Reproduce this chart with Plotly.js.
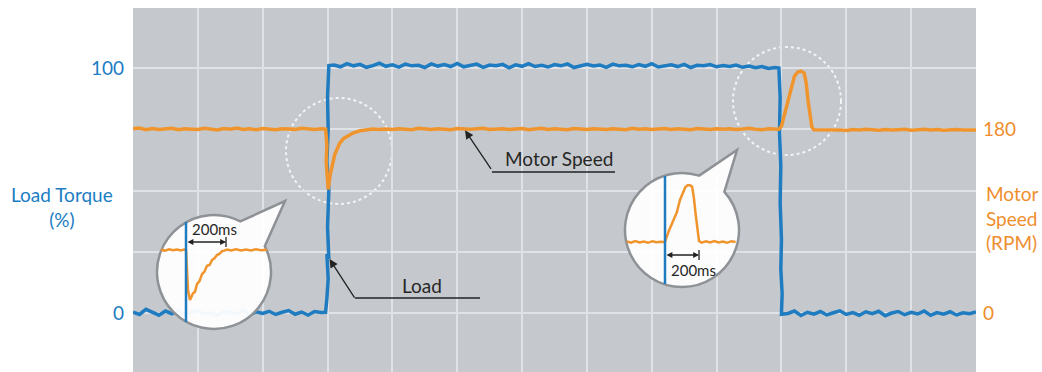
<!DOCTYPE html>
<html><head><meta charset="utf-8">
<script src="https://cdn.plot.ly/plotly-3.0.1.min.js"></script>
<style>html,body{margin:0;padding:0;background:#fff;}#chart{width:1042px;height:372px;}</style>
</head><body><div id="chart"></div>
<script>
// ---------------- DATA ----------------
// main chart time base (grid divisions)
const loadTime = [0,0.1,0.2,0.3,0.4,0.5,0.6,0.7,0.8,0.9,1,1.1,1.2,1.3,1.4,1.5,1.6,1.7,1.8,1.9,2,2.1,2.2,2.3,2.4,2.5,2.6,2.7,2.8,2.9,2.97,
  2.99,3.01,2.99,3.02,3,3.02,2.99,3.01,3,3.02,
  3.1,3.2,3.3,3.4,3.5,3.6,3.7,3.8,3.9,4,4.1,4.2,4.3,4.4,4.5,4.6,4.7,4.8,4.9,5,5.1,5.2,5.3,5.4,5.5,5.6,5.7,5.8,5.9,6,
  6.1,6.2,6.3,6.4,6.5,6.6,6.7,6.8,6.9,7,7.1,7.2,7.3,7.4,7.5,7.6,7.7,7.8,7.9,8,8.1,8.2,8.3,8.4,8.5,8.6,8.7,8.8,8.9,9,
  9.1,9.2,9.3,9.4,9.5,9.6,9.7,9.8,9.9,
  9.96,9.98,9.97,9.99,9.98,10,9.99,10.01,10,
  10.1,10.2,10.3,10.4,10.5,10.6,10.7,10.8,10.9,11,11.1,11.2,11.3,11.4,11.5,11.6,11.7,11.8,11.9,12,
  12.1,12.2,12.3,12.4,12.5,12.6,12.7,12.8,12.9,13];
const loadTorque = [0.4,-0.6,1.5,0.2,-0.9,0.8,-0.3,1.1,-0.7,0.3,0.9,-0.5,0.2,-1.0,0.6,0.1,-0.4,1.2,-0.8,0.5,-0.2,0.7,-0.6,0.3,1.0,-0.5,0.4,-0.8,0.6,0.2,0.3,
  6,14,24,22,35,50,62,75,88,101,
  101.2,100.5,101.8,100.9,101.5,100.3,101.0,102.0,100.7,101.3,
  100.4,101.6,100.9,101.1,100.2,101.7,100.8,101.4,100.6,101.9,
  100.5,101.0,101.6,100.3,101.2,100.9,101.5,100.1,101.3,100.7,
  101.8,100.6,101.1,100.4,101.4,100.9,101.7,100.2,101.0,101.5,
  100.8,101.2,100.3,101.6,100.9,101.1,100.5,101.4,100.7,101.8,
  100.4,101.0,101.3,100.6,101.5,100.2,101.1,100.9,101.4,100.5,
  101.0,100.6,101.2,100.3,100.8,100.1,100.6,99.8,100.2,
  100,88,74,60,45,30,18,8,-0.5,
  -0.2,0.8,-1.0,0.3,-0.5,0.6,-0.8,0.1,0.9,-0.6,0.2,-0.9,0.5,-0.3,0.7,-1.1,0.0,0.6,-0.7,0.3,-0.4,0.8,-0.9,0.2,-0.5,0.5,-0.8,0.1,-0.3,0.4];

const speedTime = [0,0.1,0.2,0.3,0.4,0.5,0.6,0.7,0.8,0.9,1,1.1,1.2,1.3,1.4,1.5,1.6,1.7,1.8,1.9,2,2.1,2.2,2.3,2.4,2.5,2.6,2.7,2.8,2.9,
  2.97,2.99,2.98,3,3.01,3.04,3.08,3.11,3.15,3.19,3.25,3.32,3.4,3.5,3.6,3.7,3.8,
  3.9,4,4.1,4.2,4.3,4.4,4.5,4.6,4.7,4.8,4.9,5,5.1,5.2,5.3,5.4,5.5,5.6,5.7,5.8,5.9,6,6.1,6.2,6.3,6.4,6.5,6.6,6.7,6.8,6.9,7,
  7.1,7.2,7.3,7.4,7.5,7.6,7.7,7.8,7.9,8,8.1,8.2,8.3,8.4,8.5,8.6,8.7,8.8,8.9,9,9.1,9.2,9.3,9.4,9.5,9.6,9.7,9.8,9.9,
  9.96,10,10.05,10.1,10.15,10.2,10.25,10.3,10.35,10.38,10.41,10.44,10.47,10.5,
  10.6,10.7,10.8,10.9,11,11.1,11.2,11.3,11.4,11.5,11.6,11.7,11.8,11.9,12,12.1,12.2,12.3,12.4,12.5,12.6,12.7,12.8,12.9,13];
const motorSpeed = [180.5,181.2,179.6,180.8,179.9,180.3,181.0,179.5,180.6,180.1,
  179.7,180.9,180.2,179.4,180.7,180.0,181.1,179.8,180.4,179.6,
  180.8,180.1,179.5,180.6,180.3,179.9,180.9,180.2,179.7,180.5,
  180.2,165,148,130,121,135,147,155,161,166.5,171,174,176.5,178.5,179.5,180.3,179.8,
  180.3,179.8,180.6,180.0,179.5,180.9,180.2,179.7,180.5,180.1,
  179.6,180.8,180.3,179.9,180.4,181.0,179.7,180.2,180.6,179.8,
  180.1,180.7,179.5,180.3,180.9,179.9,180.4,180.0,179.6,180.8,
  180.2,179.7,180.5,180.1,179.8,180.6,180.3,179.5,180.9,180.0,
  180.4,179.7,180.2,180.7,179.9,180.5,180.1,179.6,180.8,180.3,
  179.8,180.4,180.0,180.6,179.7,180.2,180.9,180.1,179.6,180.4,180.3,
  180,183,195,208,222,232,236,237,235,226,208,192,182,179.5,
  179.6,179.2,180.0,179.4,178.9,179.7,179.3,180.1,179.5,179.0,179.8,179.2,179.6,179.9,179.1,179.5,180.0,179.3,179.7,179.0,179.4,179.8,179.2,179.6,179.4];

// zoom inset 1 (load applied): time in ms from the step
const zoom1Time = [-125,-105,-85,-65,-45,-25,-10,0,5,10,20,35,45,55,68,80,92,105,118,130,142,155,168,180,192,205,225,250,275,300,325,350,375,405];
const zoom1Speed = [180.4,179.3,180.9,179.6,180.7,179.4,180.5,180,156,132,120,128,130,139,143,151,154,161,162,168,170,174,175.5,178.5,179.2,180.5,179.4,180.9,179.5,180.7,179.3,180.8,179.6,180.2];
const zoom1LoadTime = [0,0];
const zoom1Load = [0,100];
// zoom inset 2 (load removed)
const zoom2Time = [-225,-200,-175,-150,-125,-100,-75,-50,-25,0,20,41,55,70,88,105,120,135,150,160,170,180,190,200,215,240,265,290,315,340,365,390,415];
const zoom2Speed = [180.6,179.3,180.9,179.5,180.4,179.2,180.8,179.7,180.3,180,190,198,203,210,222,230,235,237,236.5,235,224,208,192,181,179.4,180.7,179.5,180.9,179.6,180.4,179.2,180.8,180];
const zoom2LoadTime = [0,0];
const zoom2Load = [100,0];
const arrowSpanMs = 200;

const torqueTickVals = [-25,0,25,50,75,100,125];
const torqueTickText = ['','0','','','','100',''];
const speedTickVals = [0,180];
const speedTickText = ['0','180'];

// ---------------- STYLE / GEOMETRY ----------------
const W=1042, H=372, M={l:133, r:66, t:8, b:0};
const PW=W-M.l-M.r, PH=H-M.t-M.b;
const BLUE='#1f7cc0', ORANGE='#f0952d', BLUE_T='#1c7dc3', ORANGE_T='#ee8e2e';
const FONT='Lato, "Open Sans", sans-serif';
const FS=19;
const px2x = px => (px-M.l)/PW;
const py2y = py => (H-M.b-py)/PH;

function makeInset(box, tRange, vRange){
  return {
    box, tRange, vRange,
    domX:[px2x(box[0]), px2x(box[2])],
    domY:[py2y(box[3]), py2y(box[1])],
    t: px => tRange[0] + (px-box[0])/(box[2]-box[0])*(tRange[1]-tRange[0]),
    v: py => vRange[1] - (py-box[1])/(box[3]-box[1])*(vRange[1]-vRange[0])
  };
}
const ins1 = makeInset([148,195,292,336], [-190,530], [76.8,246]);
const ins2 = makeInset([618,143,746,294], [-276.4,476.3], [128,279]);

function bubblePath(ins, cx, cy, r, a1, a2, tip){
  const rad = d => d*Math.PI/180;
  const P = (x,y) => ins.t(x).toFixed(3)+','+ins.v(y).toFixed(3);
  const U = (ux,uy) => P(cx + r*ux, cy - r*uy);
  let s = 'M'+U(Math.cos(rad(a1)),Math.sin(rad(a1)))+' L'+P(tip[0],tip[1])+' L'+U(Math.cos(rad(a2)),Math.sin(rad(a2)));
  const start=a2, end=a1-360, sweep=end-start;
  const n=Math.ceil(Math.abs(sweep)/80), d=sweep/n, k=4/3*Math.tan(rad(d)/4);
  for(let i=0;i<n;i++){
    const t0=rad(start+i*d), t1=rad(start+(i+1)*d);
    const x0=Math.cos(t0), y0=Math.sin(t0), x3=Math.cos(t1), y3=Math.sin(t1);
    s += ' C'+U(x0-k*y0, y0+k*x0)+' '+U(x3+k*y3, y3-k*x3)+' '+U(x3,y3);
  }
  return s+' Z';
}

const traces = [
  {x:loadTime, y:loadTorque, xaxis:'x', yaxis:'y', mode:'lines', line:{color:BLUE, width:3.5}, name:'Load'},
  {x:speedTime, y:motorSpeed, xaxis:'x', yaxis:'y2', mode:'lines', line:{color:ORANGE, width:3.5}, name:'Motor Speed'},
  {x:zoom1Time, y:zoom1Speed, xaxis:'x3', yaxis:'y3', mode:'lines', line:{color:ORANGE, width:2.5}},
  {x:zoom1LoadTime, y:zoom1Load, xaxis:'x3', yaxis:'y4', mode:'lines', line:{color:BLUE, width:2.5}},
  {x:zoom2Time, y:zoom2Speed, xaxis:'x5', yaxis:'y5', mode:'lines', line:{color:ORANGE, width:2.5}},
  {x:zoom2LoadTime, y:zoom2Load, xaxis:'x5', yaxis:'y6', mode:'lines', line:{color:BLUE, width:2.5}}
];

const GRID='#dfe2e6', BG='#c5c9cd';
const hid = {visible:false, showgrid:false, zeroline:false, fixedrange:true};
const layout = {
  width:W, height:H, margin:M, showlegend:false,
  paper_bgcolor:'#ffffff', plot_bgcolor:'rgba(0,0,0,0)',
  font:{family:FONT, size:FS},
  xaxis:{range:[0,13], tickvals:[1,2,3,4,5,6,7,8,9,10,11,12], showticklabels:false, ticks:'',
         showgrid:true, gridcolor:GRID, gridwidth:2, zeroline:false, showline:false},
  yaxis:{range:[-24.08,124.5], tickvals:torqueTickVals, ticktext:torqueTickText, ticks:'',
         showgrid:true, gridcolor:GRID, gridwidth:2, zeroline:false, showline:false,
         tickfont:{color:BLUE_T, size:FS, family:FONT}, ticklabelstandoff:8},
  yaxis2:{overlaying:'y', side:'right', range:[-24.08*2.4,124.5*2.4], tickvals:speedTickVals, ticktext:speedTickText,
          ticks:'', showgrid:false, zeroline:false, showline:false,
          tickfont:{color:ORANGE_T, size:FS, family:FONT}, ticklabelstandoff:6},
  xaxis3:Object.assign({domain:ins1.domX, anchor:'y3', range:ins1.tRange}, hid),
  yaxis3:Object.assign({domain:ins1.domY, anchor:'x3', range:ins1.vRange}, hid),
  yaxis4:Object.assign({overlaying:'y3', anchor:'x3', range:[-14,127]}, hid),
  xaxis5:Object.assign({domain:ins2.domX, anchor:'y5', range:ins2.tRange}, hid),
  yaxis5:Object.assign({domain:ins2.domY, anchor:'x5', range:ins2.vRange}, hid),
  yaxis6:Object.assign({overlaying:'y5', anchor:'x5', range:[-9.26,130.6]}, hid),
  shapes:[
    {type:'rect', xref:'paper', yref:'paper', x0:0, x1:1, y0:0, y1:1, fillcolor:BG, line:{width:0}, layer:'below'},
    {type:'circle', xref:'paper', yref:'paper', x0:px2x(286), x1:px2x(392), y0:py2y(204), y1:py2y(98),
     line:{color:'rgba(255,255,255,0.8)', width:2, dash:'dot'}, layer:'below'},
    {type:'circle', xref:'paper', yref:'paper', x0:px2x(733), x1:px2x(841), y0:py2y(155), y1:py2y(47),
     line:{color:'rgba(255,255,255,0.8)', width:2, dash:'dot'}, layer:'below'},
    {type:'path', xref:'x3', yref:'y3', layer:'below', path:bubblePath(ins1,214,272,57,62.5,27,[285,201]),
     fillcolor:'rgba(255,255,255,0.95)', line:{color:'#8e9296', width:2.5}},
    {type:'path', xref:'x5', yref:'y5', layer:'below', path:bubblePath(ins2,682,230,57,72.5,42,[737,150]),
     fillcolor:'rgba(255,255,255,0.95)', line:{color:'#8e9296', width:2.5}},
    {type:'line', xref:'x3', yref:'y3', layer:'above', x0:arrowSpanMs, x1:arrowSpanMs, y0:ins1.v(247), y1:ins1.v(237), line:{color:'#222', width:1.3}},
    {type:'line', xref:'x5', yref:'y5', layer:'above', x0:arrowSpanMs, x1:arrowSpanMs, y0:ins2.v(260), y1:ins2.v(250), line:{color:'#222', width:1.3}},
    {type:'line', xref:'paper', yref:'paper', layer:'above', x0:px2x(492), x1:px2x(615), y0:py2y(172), y1:py2y(172), line:{color:'#222', width:1.3}},
    {type:'line', xref:'paper', yref:'paper', layer:'above', x0:px2x(355), x1:px2x(480), y0:py2y(298), y1:py2y(298), line:{color:'#222', width:1.3}}
  ],
  annotations:[
    {xref:'paper', yref:'paper', x:px2x(62), y:py2y(207), text:'Load Torque<br>(%)', showarrow:false,
     xanchor:'center', yanchor:'middle', align:'center', font:{color:BLUE_T, size:FS, family:FONT}},
    {xref:'paper', yref:'paper', x:px2x(984), y:py2y(218), text:'Motor<br>Speed<br>(RPM)', showarrow:false,
     xanchor:'left', yanchor:'middle', align:'left', font:{color:ORANGE_T, size:FS, family:FONT}},
    {xref:'paper', yref:'paper', x:px2x(559), y:py2y(158), text:'Motor Speed', showarrow:false,
     xanchor:'center', yanchor:'middle', font:{color:'#262626', size:FS, family:FONT}},
    {xref:'paper', yref:'paper', x:px2x(422), y:py2y(285), text:'Load', showarrow:false,
     xanchor:'center', yanchor:'middle', font:{color:'#262626', size:FS, family:FONT}},
    {xref:'x', yref:'y2', x:5.12, y:179, ax:27, ay:40, text:'', showarrow:true, arrowhead:2, arrowsize:1.3, arrowwidth:1.3, arrowcolor:'#222'},
    {xref:'x', yref:'y', x:3.03, y:22, ax:26, ay:40, text:'', showarrow:true, arrowhead:2, arrowsize:1.3, arrowwidth:1.3, arrowcolor:'#222'},
    {xref:'x3', yref:'y3', axref:'x3', ayref:'y3', x:arrowSpanMs, y:ins1.v(242), ax:0, ay:ins1.v(242), text:'', showarrow:true,
     arrowhead:2, arrowside:'end+start', arrowsize:0.9, arrowwidth:1.3, arrowcolor:'#222'},
    {xref:'x5', yref:'y5', axref:'x5', ayref:'y5', x:arrowSpanMs, y:ins2.v(255), ax:0, ay:ins2.v(255), text:'', showarrow:true,
     arrowhead:2, arrowside:'end+start', arrowsize:0.9, arrowwidth:1.3, arrowcolor:'#222'},
    {xref:'x3', yref:'y3', x:ins1.t(214), y:ins1.v(229), text:'200ms', showarrow:false, xanchor:'center', yanchor:'middle',
     font:{color:'#262626', size:15, family:FONT}},
    {xref:'x5', yref:'y5', x:ins2.t(693), y:ins2.v(270), text:'200ms', showarrow:false, xanchor:'center', yanchor:'middle',
     font:{color:'#262626', size:15, family:FONT}}
  ]
};
Plotly.newPlot('chart', traces, layout, {staticPlot:true, displayModeBar:false});
</script></body></html>
